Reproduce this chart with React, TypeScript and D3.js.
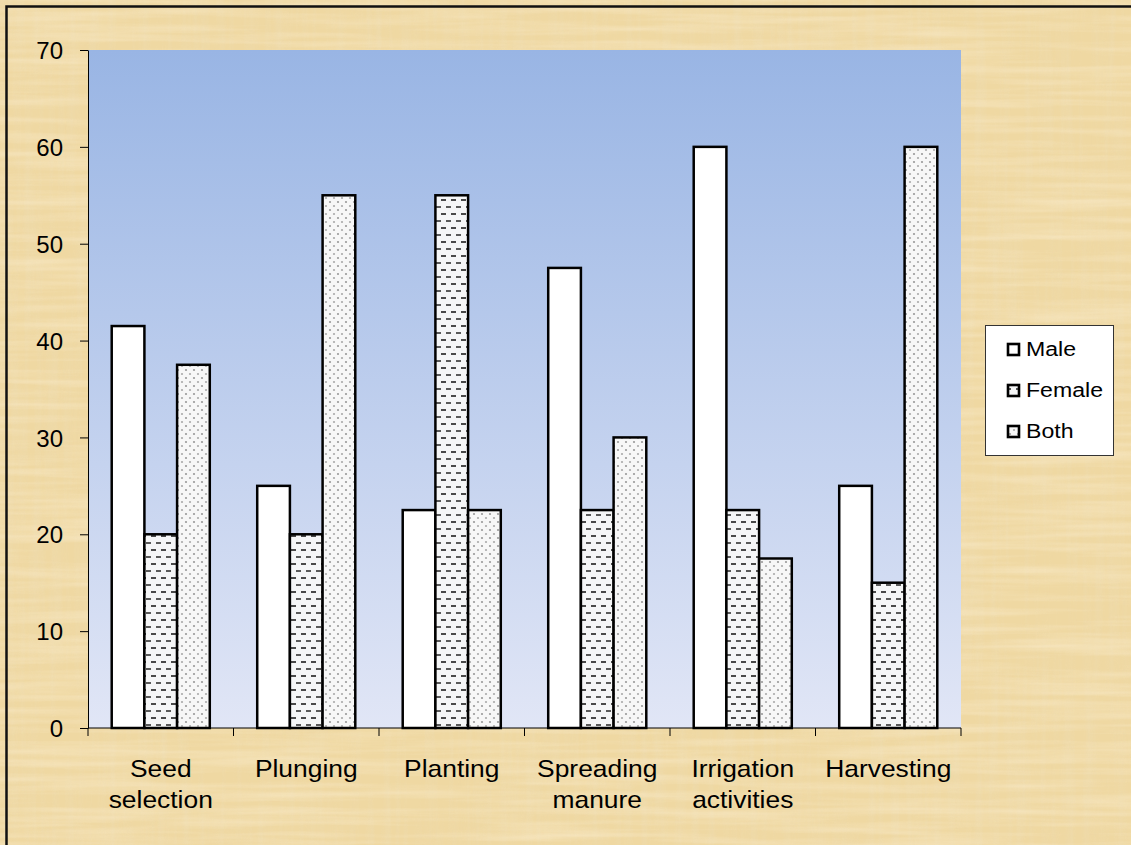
import React from 'react';
import * as d3 from 'd3';

const categories = [['Seed', 'selection'], ['Plunging'], ['Planting'], ['Spreading', 'manure'], ['Irrigation', 'activities'], ['Harvesting']];
const seriesNames = ['Male', 'Female', 'Both'];
const male = [41.5, 25, 22.5, 47.5, 60, 25];
const female = [20, 20, 55, 22.5, 22.5, 15];
const both = [37.5, 55, 22.5, 30, 17.5, 60];
const yTicks = [0, 10, 20, 30, 40, 50, 60, 70];

const W = 1131;
const H = 845;
const margin = { left: 88, right: 1131 - 961, top: 50, bottom: 845 - 728 };
const fills = ['#ffffff', 'url(#femalePat)', 'url(#bothPat)'];
const FONT = 'Liberation Sans, Arial, sans-serif';

export default function App() {
  const svgRef = React.useRef<SVGSVGElement>(null);

  React.useEffect(() => {
    const svg = d3.select(svgRef.current);
    svg.selectAll('*').remove();

    const defs = svg.append('defs');
    const grad = defs.append('linearGradient').attr('id', 'plotGrad').attr('x1', 0).attr('y1', 0).attr('x2', 0).attr('y2', 1);
    grad.append('stop').attr('offset', '0%').attr('stop-color', '#99b5e4');
    grad.append('stop').attr('offset', '100%').attr('stop-color', '#e1e6f6');

    // papyrus streaks: vertical and horizontal fibres
    const mkPaper = (id: string, freq: string, seed: number, rgb: number[]) => {
      const f = defs.append('filter').attr('id', id).attr('x', 0).attr('y', 0).attr('width', '100%').attr('height', '100%');
      f.append('feTurbulence').attr('type', 'fractalNoise').attr('baseFrequency', freq).attr('numOctaves', 3).attr('seed', seed);
      f.append('feColorMatrix').attr('type', 'matrix')
        .attr('values', `0 0 0 0 ${rgb[0]}  0 0 0 0 ${rgb[1]}  0 0 0 0 ${rgb[2]}  1.3 0 0 0 -0.5`);
    };
    mkPaper('paperV', '0.12 0.006', 3, [0.85, 0.72, 0.45]);
    mkPaper('paperH', '0.006 0.12', 7, [0.99, 0.9, 0.72]);

    const fp = defs.append('pattern').attr('id', 'femalePat').attr('patternUnits', 'userSpaceOnUse').attr('width', 10).attr('height', 14);
    fp.append('rect').attr('width', 10).attr('height', 14).attr('fill', '#f5f6f7');
    fp.append('rect').attr('x', 1).attr('y', 3).attr('width', 5).attr('height', 2).attr('fill', '#4a4a4a');
    fp.append('rect').attr('x', 6).attr('y', 10).attr('width', 5).attr('height', 2).attr('fill', '#5a5a5a');
    fp.append('rect').attr('x', -4).attr('y', 10).attr('width', 5).attr('height', 2).attr('fill', '#5a5a5a');

    const bp = defs.append('pattern').attr('id', 'bothPat').attr('patternUnits', 'userSpaceOnUse').attr('width', 8).attr('height', 8);
    bp.append('rect').attr('width', 8).attr('height', 8).attr('fill', '#f7f7f7');
    bp.append('circle').attr('cx', 2).attr('cy', 2).attr('r', 1.1).attr('fill', '#999');
    bp.append('circle').attr('cx', 6).attr('cy', 6).attr('r', 1.1).attr('fill', '#aaa');

    // papyrus-like background
    svg.append('rect').attr('width', W).attr('height', H).attr('fill', '#efd8a2');
    svg.append('rect').attr('width', W).attr('height', H).attr('filter', 'url(#paperV)').attr('opacity', 0.7);
    svg.append('rect').attr('width', W).attr('height', H).attr('filter', 'url(#paperH)').attr('opacity', 0.6);
    svg.append('path').attr('d', `M6.5,${H} V6.5 H${W}`).attr('fill', 'none').attr('stroke', '#111').attr('stroke-width', 2.5);

    const x0 = d3.scaleBand().domain(d3.range(categories.length).map(String))
      .range([margin.left, W - margin.right]).paddingInner(0.326).paddingOuter(0.163);
    const x1 = d3.scaleBand().domain(seriesNames).range([0, x0.bandwidth()]);
    const y = d3.scaleLinear().domain([0, 70]).range([H - margin.bottom, margin.top]);

    svg.append('rect').attr('x', margin.left).attr('y', margin.top)
      .attr('width', W - margin.right - margin.left).attr('height', H - margin.bottom - margin.top)
      .attr('fill', 'url(#plotGrad)');

    const series = [male, female, both];
    const g = svg.append('g');
    categories.forEach((_, i) => {
      series.forEach((vals, s) => {
        g.append('rect')
          .attr('x', (x0(String(i)) ?? 0) + (x1(seriesNames[s]) ?? 0))
          .attr('y', y(vals[i]))
          .attr('width', x1.bandwidth())
          .attr('height', y(0) - y(vals[i]))
          .attr('fill', fills[s])
          .attr('stroke', '#000')
          .attr('stroke-width', 2.5);
      });
    });

    // y axis
    const yAxis = svg.append('g').attr('transform', `translate(${margin.left},0)`)
      .call(d3.axisLeft(y).tickValues(yTicks).tickSize(8).tickPadding(17).tickSizeOuter(0));
    yAxis.selectAll('text').attr('font-size', 24).attr('font-family', FONT).attr('fill', '#000')
      .attr('dy', '0.36em');
    yAxis.selectAll('line,path').attr('stroke', '#000');

    // x axis
    const xEdges = d3.range(categories.length + 1).map(i => margin.left + i * (W - margin.left - margin.right) / categories.length);
    const xa = svg.append('g');
    xa.append('line').attr('x1', margin.left).attr('x2', W - margin.right).attr('y1', y(0)).attr('y2', y(0)).attr('stroke', '#000');
    xEdges.forEach(ex => {
      xa.append('line').attr('x1', ex).attr('x2', ex).attr('y1', y(0)).attr('y2', y(0) + 8).attr('stroke', '#000');
    });
    categories.forEach((lines, i) => {
      const cx = (x0(String(i)) ?? 0) + x0.bandwidth() / 2;
      lines.forEach((ln, k) => {
        xa.append('text').attr('text-anchor', 'middle').attr('font-size', 24)
          .attr('font-family', FONT).attr('fill', '#000')
          .attr('transform', `translate(${cx},${777 + k * 31}) scale(1.1,1)`)
          .text(ln);
      });
    });

    // legend
    const lg = svg.append('g');
    lg.append('rect').attr('x', 985.5).attr('y', 325.5).attr('width', 128).attr('height', 130)
      .attr('fill', '#fff').attr('stroke', '#333').attr('stroke-width', 1);
    seriesNames.forEach((name, s) => {
      const base = 356 + s * 41;
      lg.append('rect').attr('x', 1008).attr('y', base - 12).attr('width', 11).attr('height', 11)
        .attr('fill', fills[s]).attr('stroke', '#000').attr('stroke-width', 2.6);
      lg.append('text').attr('font-size', 21).attr('font-family', FONT)
        .attr('transform', `translate(1026,${base}) scale(1.1,1)`).text(name);
    });
  }, []);

  return (
    <div style={{ position: 'absolute', top: 0, left: 0 }}>
      <svg ref={svgRef} width={W} height={H} style={{ display: 'block' }} />
    </div>
  );
}
